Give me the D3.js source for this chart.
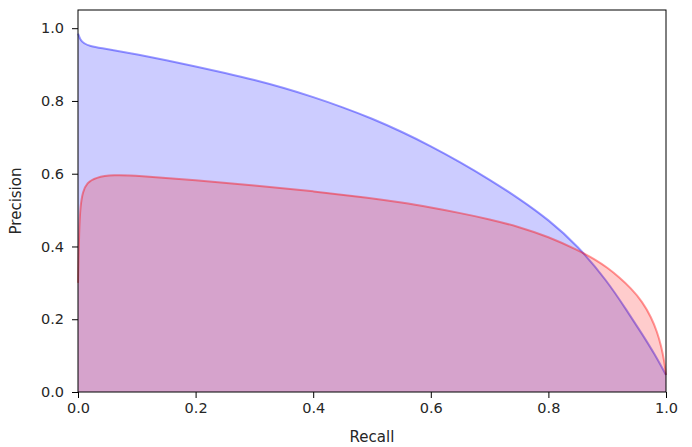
<!DOCTYPE html>
<html>
<head>
<meta charset="utf-8">
<script src="https://cdn.jsdelivr.net/npm/d3@7"></script>
<style>
  body { margin: 0; background: #fff; }
  text { font-family: "DejaVu Sans", sans-serif; fill: #262626; }
</style>
</head>
<body>
<div id="chart"></div>
<script>
// recall / precision pairs
const blueRecall = [0, 0.004, 0.01, 0.02, 0.04, 0.07, 0.1, 0.15, 0.2, 0.25, 0.3, 0.35, 0.4, 0.45, 0.5, 0.55, 0.6, 0.65, 0.7, 0.75, 0.8, 0.85, 0.9, 0.933, 0.96, 0.98, 1.0];
const bluePrecision = [0.985, 0.968, 0.958, 0.951, 0.945, 0.937, 0.928, 0.912, 0.895, 0.877, 0.858, 0.836, 0.811, 0.783, 0.752, 0.716, 0.676, 0.632, 0.584, 0.532, 0.474, 0.402, 0.305, 0.225, 0.158, 0.106, 0.047];

const redRecall = [0, 0.002, 0.004, 0.008, 0.015, 0.03, 0.06, 0.1, 0.2, 0.3, 0.4, 0.5, 0.55, 0.6, 0.65, 0.7, 0.75, 0.8, 0.85, 0.88, 0.9, 0.92, 0.94, 0.96, 0.975, 0.985, 0.992, 0.997, 1.0];
const redPrecision = [0.3, 0.45, 0.51, 0.55, 0.575, 0.59, 0.597, 0.595, 0.582, 0.568, 0.552, 0.533, 0.521, 0.507, 0.492, 0.475, 0.454, 0.427, 0.39, 0.364, 0.342, 0.316, 0.286, 0.248, 0.205, 0.165, 0.125, 0.085, 0.047];

const xTicks = [0, 0.2, 0.4, 0.6, 0.8, 1.0];
const yTicks = [0, 0.2, 0.4, 0.6, 0.8, 1.0];

const W = 692, H = 447;
const margin = { top: 10, right: 26, bottom: 55, left: 78 };
const width = W - margin.left - margin.right;
const height = H - margin.top - margin.bottom;

const svg = d3.select("#chart").append("svg")
    .attr("width", W)
    .attr("height", H);

const g = svg.append("g")
    .attr("transform", `translate(${margin.left},${margin.top})`);

const x = d3.scaleLinear().domain([0, 1]).range([0, width]);
const y = d3.scaleLinear().domain([0, 1.05]).range([height, 0]);

const series = [
  { rec: blueRecall, prec: bluePrecision, color: "blue" },
  { rec: redRecall, prec: redPrecision, color: "red" }
];

series.forEach(s => {
  const pts = s.rec.map((r, i) => [r, s.prec[i]]);
  const line = d3.line().x(d => x(d[0])).y(d => y(d[1])).curve(d3.curveBasis);
  const area = d3.area().x(d => x(d[0])).y0(y(0)).y1(d => y(d[1])).curve(d3.curveBasis);
  g.append("path")
    .datum(pts)
    .attr("d", area)
    .attr("fill", s.color)
    .attr("fill-opacity", 0.2);
  g.append("path")
    .datum(pts)
    .attr("d", line)
    .attr("fill", "none")
    .attr("stroke", s.color)
    .attr("stroke-opacity", 0.4)
    .attr("stroke-width", 2);
});

// axes
const xAxis = g.append("g")
    .attr("transform", `translate(0,${height})`)
    .call(d3.axisBottom(x).tickValues(xTicks).tickFormat(d3.format(".1f")).tickSize(6).tickPadding(5));
const yAxis = g.append("g")
    .call(d3.axisLeft(y).tickValues(yTicks).tickFormat(d3.format(".1f")).tickSize(6).tickPadding(8));

[xAxis, yAxis].forEach(a => {
  a.select(".domain").remove();
  a.selectAll("line").attr("stroke", "#000").attr("stroke-width", 1);
  a.selectAll("text").style("font-size", "14.5px").attr("fill", "#262626");
});

// frame
g.append("rect")
    .attr("width", width)
    .attr("height", height)
    .attr("fill", "none")
    .attr("stroke", "#000")
    .attr("stroke-width", 1);

g.append("text")
    .attr("x", width / 2)
    .attr("y", height + 50)
    .attr("text-anchor", "middle")
    .style("font-size", "15px")
    .text("Recall");

g.append("text")
    .attr("transform", "rotate(-90)")
    .attr("x", -height / 2)
    .attr("y", -57)
    .attr("text-anchor", "middle")
    .style("font-size", "15px")
    .text("Precision");
</script>
</body>
</html>
